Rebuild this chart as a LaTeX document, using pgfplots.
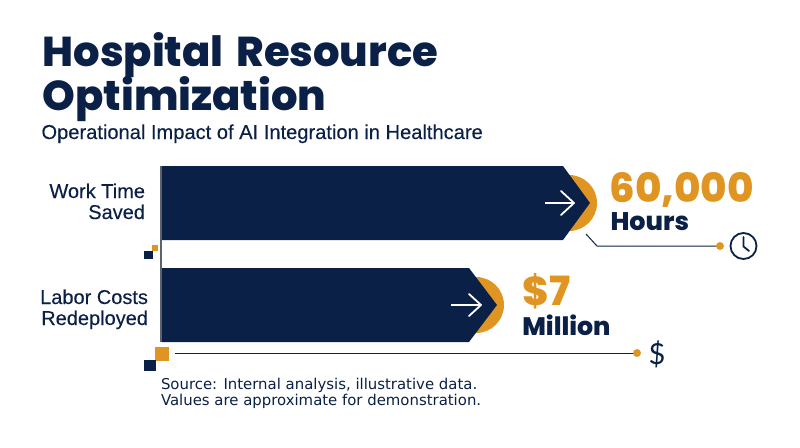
\documentclass[border=0pt]{standalone}
\usepackage{pgfplots}
\pgfplotsset{compat=1.18}
\usepackage{fontspec}
\setmainfont{Liberation Sans}
\newfontfamily\pop{Poppins ExtraBold}
\newfontfamily\med{Liberation Sans}[FakeBold=0.25]
\newfontfamily\djv{DejaVu Sans}
\newfontfamily\lato{Lato}
\definecolor{navy}{HTML}{0B2046}
\definecolor{amber}{HTML}{E09522}
\tikzset{T/.style={inner sep=0pt,outer sep=0pt,text=navy,anchor=base west},
         E/.style={inner sep=0pt,outer sep=0pt,text=navy,anchor=base east}}
\begin{document}
\begin{tikzpicture}
\begin{axis}[
  width=800pt,height=447pt,scale only axis,
  xmin=0,xmax=800,ymin=0,ymax=447,y dir=reverse,
  hide axis,clip=false,
]
\path[use as bounding box] (axis cs:0,0) rectangle (axis cs:800,447);
% value discs
\fill[amber] (axis cs:569,203) circle[radius=28pt];
\fill[amber] (axis cs:476,305) circle[radius=28pt];
% bars
\addplot[fill=navy,draw=none] coordinates {(161,166) (563,166) (590,203) (563,240) (161,240)} -- cycle;
\addplot[fill=navy,draw=none] coordinates {(161,268) (469,268) (497,305) (469,342) (161,342)} -- cycle;
% base line
\addplot[color=gray!70!navy,line width=1.4pt] coordinates {(161,166) (161,342)};
% arrows
\addplot[white,line width=1.8pt] coordinates {(545,203) (573,203)};
\addplot[white,line width=1.8pt,line join=round,line cap=round] coordinates {(561,191) (574,203) (561,215)};
\addplot[white,line width=1.8pt] coordinates {(451,305) (480,305)};
\addplot[white,line width=1.8pt,line join=round,line cap=round] coordinates {(469,294) (481,305) (469,316)};
% leader lines
\addplot[navy,line width=1pt] coordinates {(586,234) (597,246) (720,246)};
\addplot[navy,line width=1pt] coordinates {(175,353) (637,353)};
\addplot[amber,only marks,mark=*,mark size=3.7pt] coordinates {(720,246) (637,353)};
% squares
\addplot[fill=amber,draw=none] coordinates {(152,245) (158,245) (158,251) (152,251)} -- cycle;
\addplot[fill=navy,draw=none] coordinates {(144,251) (152.5,251) (152.5,259) (144,259)} -- cycle;
\addplot[fill=amber,draw=none] coordinates {(155,347) (168.5,347) (168.5,361) (155,361)} -- cycle;
\addplot[fill=navy,draw=none] coordinates {(144,360) (156,360) (156,371) (144,371)} -- cycle;
% clock icon
\draw[navy,line width=1.8pt] (axis cs:743.5,246) circle[radius=13pt];
\draw[navy,line width=1.8pt,line cap=round,line join=round] (axis cs:743.5,237) -- (axis cs:743.5,246.5) -- (axis cs:749,251);
% texts
\node[T,font=\pop\fontsize{41.7}{41.7}\selectfont] at (axis cs:42.5,66) {Hospital\hspace{0.31em}Resource};
\node[T,font=\pop\fontsize{41.7}{41.7}\selectfont] at (axis cs:42.5,110) {Optimization};
\node[T,font=\med\fontsize{20.1}{20.1}\selectfont] at (axis cs:41.5,139) {Operational Impact of AI Integration in Healthcare};
\node[E,font=\med\fontsize{20}{20}\selectfont] at (axis cs:145,198) {Work Time};
\node[E,font=\med\fontsize{20}{20}\selectfont] at (axis cs:145,219) {Saved};
\node[E,font=\med\fontsize{20}{20}\selectfont] at (axis cs:148,304) {Labor Costs};
\node[E,font=\med\fontsize{20}{20}\selectfont] at (axis cs:148,325) {Redeployed};
\node[T,text=amber,font=\pop\fontsize{40.3}{40.3}\selectfont] at (axis cs:609.5,202) {60,000};
\node[T,font=\pop\fontsize{25.5}{25.5}\selectfont] at (axis cs:610.5,230) {Hours};
\node[T,text=amber,font=\pop\fontsize{40.3}{40.3}\selectfont] at (axis cs:522.5,305) {\$7};
\node[T,font=\pop\fontsize{25.3}{25.3}\selectfont] at (axis cs:522.3,335) {Million};
\node[inner sep=0pt,anchor=base,text=navy,font=\lato\fontsize{29}{29}\selectfont] at (axis cs:657,364) {\$};
\node[T,font=\djv\fontsize{14.9}{14.9}\selectfont] at (axis cs:161,389) {Source: Internal analysis, illustrative data.};
\node[T,font=\djv\fontsize{14.9}{14.9}\selectfont] at (axis cs:161,405) {Values are approximate for demonstration.};
\end{axis}
\end{tikzpicture}
\end{document}
